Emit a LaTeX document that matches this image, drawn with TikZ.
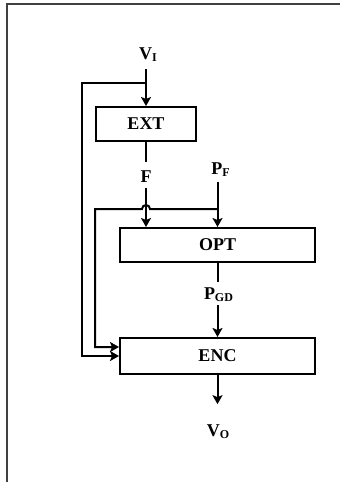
\documentclass[tikz,border=0pt]{standalone}
\usepackage{fontspec}
\setmainfont{Liberation Serif}
\usetikzlibrary{arrows.meta}

\begin{document}
\begin{tikzpicture}[
    x=0.5pt, y=-0.5pt,
    blk/.style={draw, line width=1pt, minimum height=17pt, inner sep=0pt,
                font=\fontsize{9}{10}\selectfont\bfseries},
    lbl/.style={inner sep=0pt, font=\fontsize{9}{10}\selectfont\bfseries},
    ln/.style={line width=1pt},
    arr/.style={-{Stealth[length=4.5pt,width=5pt,inset=1pt]}, line width=1pt}
]
\useasboundingbox (0,0) rectangle (340,482);
\draw[line width=0.6pt, black!75] (7,482) |- (340,4);

\node[blk, minimum width=50pt] (ext) at (146,124) {EXT};
\node[blk, minimum width=97.5pt] (opt) at (217.5,245) {OPT};
\node[blk, minimum width=97.5pt, minimum height=18pt] (enc) at (217.5,356) {ENC};

\node[lbl] (vi) at (148.5,54.5) {V\textsubscript{I}};
\node[lbl] (f) at (146,177) {F};
\node[lbl] (pf) at (221,169.5) {P\textsubscript{F}};
\node[lbl] (pgd) at (219,294.5) {P\textsubscript{GD}};
\node[lbl] (vo) at (218.5,431.5) {V\textsubscript{O}};

\coordinate (b1) at (146,83);
\coordinate (b2) at (217.5,209);

\draw[arr, shorten <=3.5pt] (vi.south -| ext.north) -- (ext.north);
\draw[ln, shorten >=4.5pt] (ext.south) -- (f.north);
\draw[arr, shorten <=2.5pt] (f.south) -- (f.south |- opt.north);
\draw[arr, shorten <=2.5pt] (pf.south -| opt.north) -- (opt.north);
\draw[ln, shorten >=2.5pt] (opt.south) -- (pgd.north -| opt.south);
\draw[arr, shorten <=1.5pt] (pgd.south -| enc.north) -- (enc.north);
\draw[arr, shorten >=10pt] (enc.south) -- (vo.north -| enc.south);

% feedback lines
\draw[arr] (b1) -| ([xshift=-18.5pt]enc.west) -- (enc.west);
\draw[arr] (b2) -- (150,209) arc[start angle=0, end angle=180, radius=2pt]
    -- (95,209) |- ([yshift=4.5pt]enc.west);
\end{tikzpicture}
\end{document}
